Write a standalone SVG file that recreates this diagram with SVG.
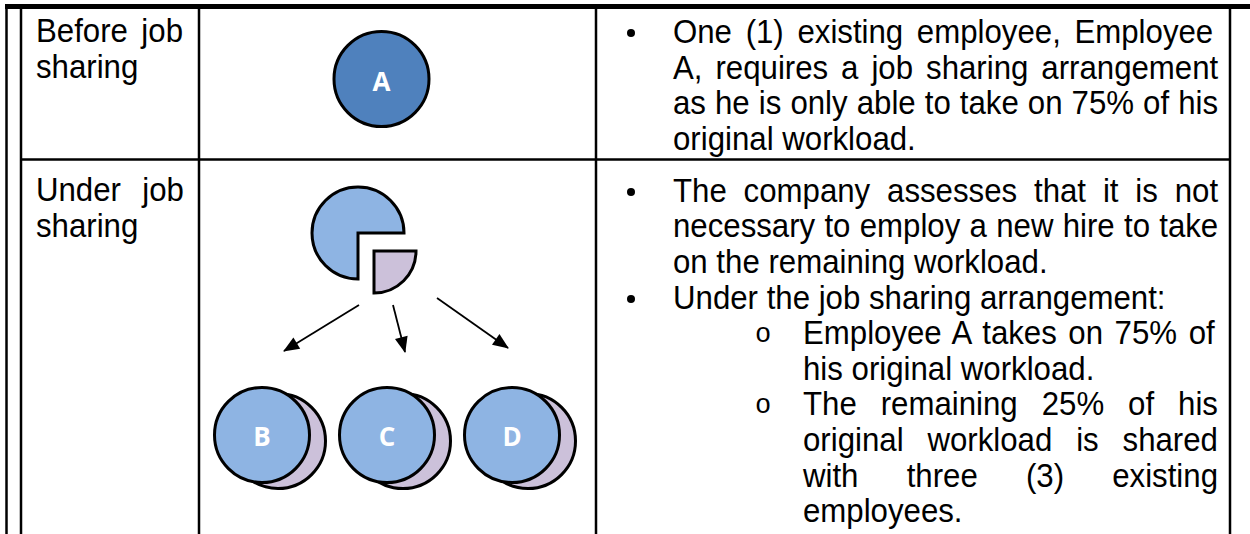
<svg xmlns="http://www.w3.org/2000/svg" width="1250" height="534" viewBox="0 0 1250 534">
<style>
.t{font-family:"Liberation Sans",Arial,sans-serif;font-size:31.2px;fill:#000}
.m{font-family:"Liberation Mono","Courier New",monospace;font-size:27px;fill:#000}
.rule{stroke:#000;stroke-width:2.5;fill:none}
.lbl{font-family:"Open Sans","Liberation Sans",sans-serif;font-weight:bold;font-size:26px;fill:#fff;text-anchor:middle}
.ol{stroke:#000;stroke-width:3}
.front{fill:#8eb4e3}
.back{fill:#ccc1da}
.conn{stroke:#000;stroke-width:1.8;fill:none}
</style>
<defs>
<marker id="ah" viewBox="0 0 16 13" refX="15" refY="6.5" markerWidth="16" markerHeight="13" markerUnits="userSpaceOnUse" orient="auto" overflow="visible">
<path d="M0,0 L16,6.5 L0,13 Z" fill="#000"/>
</marker>
</defs>
<rect width="1250" height="534" fill="#fff"/>
<g id="table">
<rect x="5" y="4" width="1245" height="5" fill="#000"/>
<line class="rule" x1="6.5" y1="6" x2="6.5" y2="534"/>
<line class="rule" x1="21" y1="6" x2="21" y2="534"/>
<line class="rule" x1="199" y1="6" x2="199" y2="534"/>
<line class="rule" x1="596" y1="6" x2="596" y2="534"/>
<line class="rule" x1="1230" y1="6" x2="1230" y2="534"/>
<line class="rule" x1="21" y1="159.5" x2="1230" y2="159.5"/>
</g>
<g id="labels" transform="scale(1,1.08)">
<text class="t" x="36" y="38.89" word-spacing="4.8">Before job</text>
<text class="t" x="36" y="72.22">sharing</text>
<text class="t" x="36" y="186.11" word-spacing="12.7">Under job</text>
<text class="t" x="36" y="219.44">sharing</text>
</g>
<g id="bullets">
<circle cx="631" cy="33" r="4" fill="#000"/>
<circle cx="631" cy="192" r="4" fill="#000"/>
<circle cx="631" cy="299" r="4" fill="#000"/>
<text class="m" x="755" y="342">o</text>
<text class="m" x="755" y="413">o</text>
</g>
<g id="text-before" transform="scale(1,1.08)">
<text class="t" x="673" y="39.81" word-spacing="5">One (1) existing employee, Employee</text>
<text class="t" x="673" y="73.15" word-spacing="4.3">A, requires a job sharing arrangement</text>
<text class="t" x="673" y="105.56" word-spacing="0.4">as he is only able to take on 75% of his</text>
<text class="t" x="673" y="138.89">original workload.</text>
</g>
<g id="text-under" transform="scale(1,1.08)">
<text class="t" x="673" y="187.04" word-spacing="8.2">The company assesses that it is not</text>
<text class="t" x="673" y="219.44" word-spacing="0.6">necessary to employ a new hire to take</text>
<text class="t" x="673" y="252.78">on the remaining workload.</text>
<text class="t" x="673" y="286.11">Under the job sharing arrangement:</text>
<text class="t" x="803" y="318.52" word-spacing="2.9">Employee A takes on 75% of</text>
<text class="t" x="803" y="351.85">his original workload.</text>
<text class="t" x="803" y="384.26" word-spacing="15.3">The remaining 25% of his</text>
<text class="t" x="803" y="417.59" word-spacing="15.2">original workload is shared</text>
<text class="t" x="803" y="450.93" word-spacing="39.5">with three (3) existing</text>
<text class="t" x="803" y="483.33">employees.</text>
</g>
<g id="nodeA">
<circle cx="381.5" cy="79" r="47.5" fill="#4f81bd" class="ol"/>
<text class="lbl" x="381.5" y="91">A</text>
</g>
<g id="pie">
<path d="M358,233 L404,233 A46,46 0 1,0 358,279 Z" class="front ol"/>
<path d="M374,251 L416,251 A42,42 0 0,1 374,293 Z" class="back ol"/>
</g>
<g id="connectors">
<line class="conn" x1="359" y1="305" x2="284" y2="351" marker-end="url(#ah)"/>
<line class="conn" x1="393" y1="305" x2="405" y2="352" marker-end="url(#ah)"/>
<line class="conn" x1="437" y1="298" x2="508" y2="348" marker-end="url(#ah)"/>
</g>
<g id="nodeB">
<circle cx="278" cy="441" r="47.5" class="back ol"/>
<circle cx="262" cy="435" r="47.5" class="front ol"/>
<text class="lbl" x="262" y="446">B</text>
</g>
<g id="nodeC">
<circle cx="403" cy="441" r="47.5" class="back ol"/>
<circle cx="387" cy="435" r="47.5" class="front ol"/>
<text class="lbl" x="387" y="446">C</text>
</g>
<g id="nodeD">
<circle cx="528" cy="441" r="47.5" class="back ol"/>
<circle cx="512" cy="435" r="47.5" class="front ol"/>
<text class="lbl" x="512" y="446">D</text>
</g>
</svg>
